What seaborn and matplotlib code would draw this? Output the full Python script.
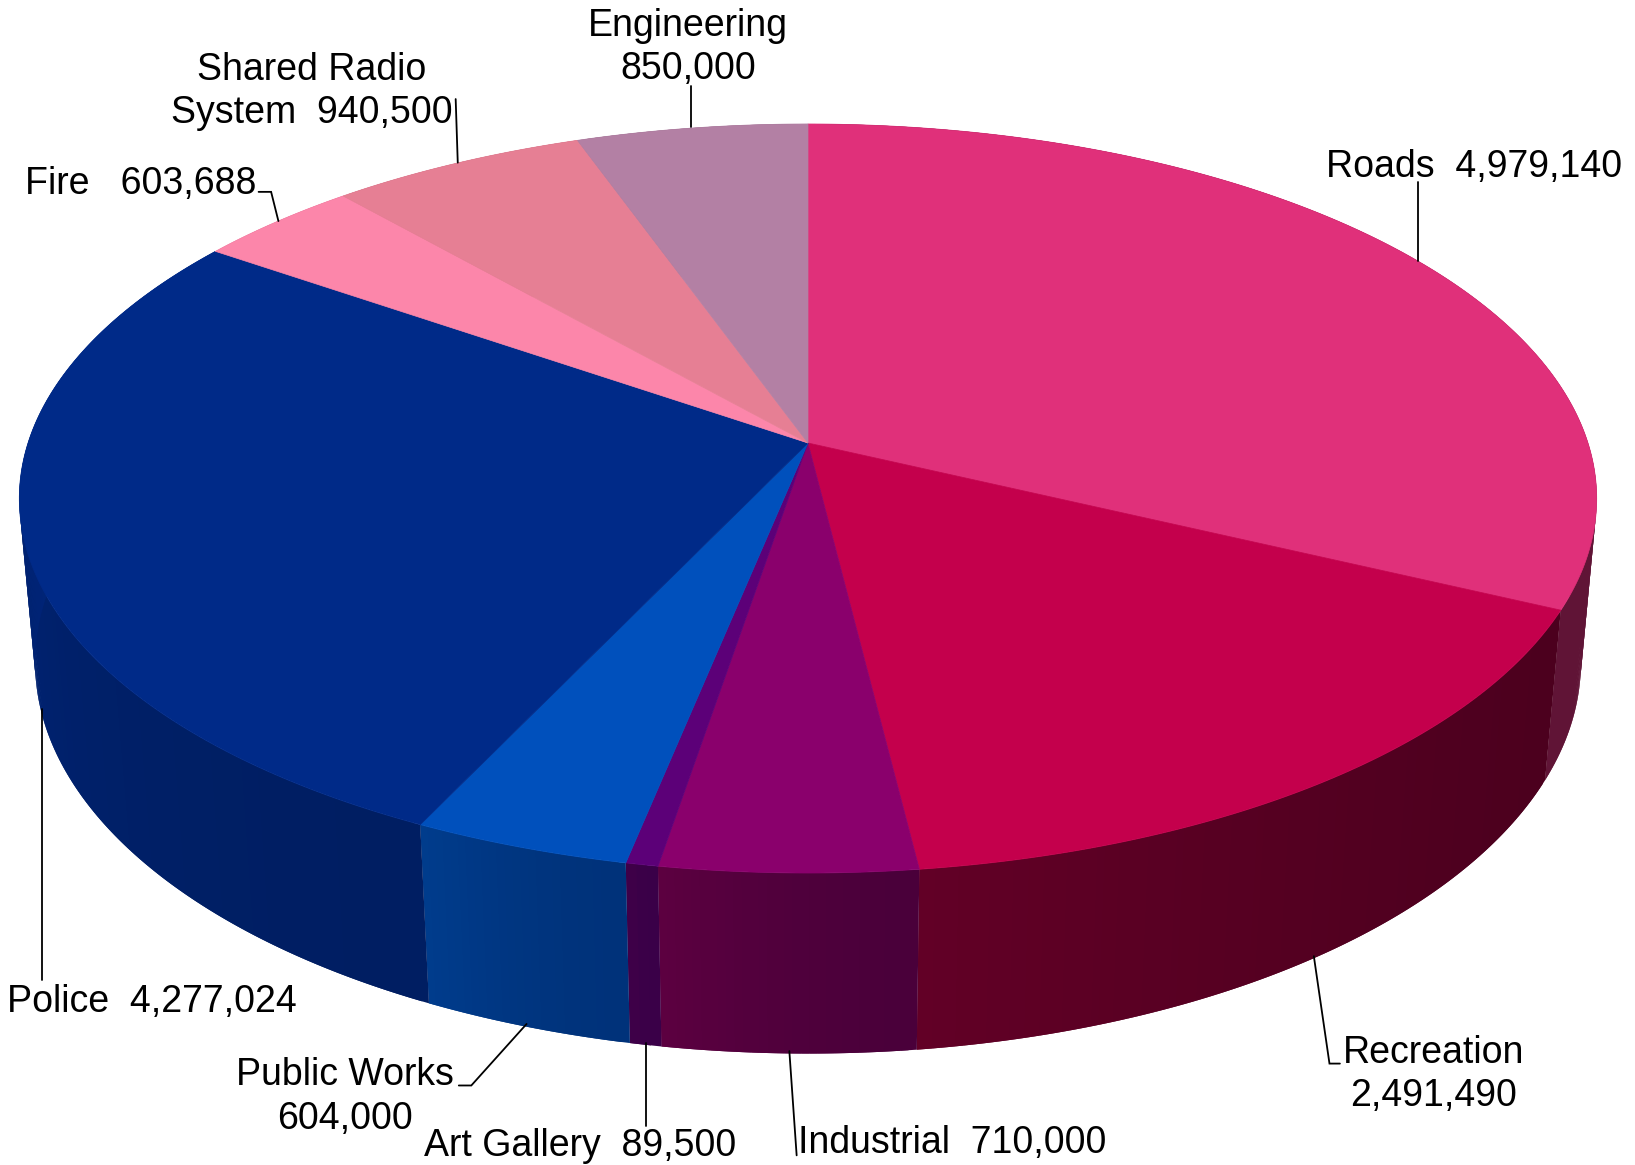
import numpy as np
import matplotlib
matplotlib.use("Agg")
import matplotlib.pyplot as plt
from matplotlib.collections import PolyCollection
from matplotlib.colors import to_rgb
import seaborn as sns

# Budget figures, clockwise from twelve o'clock
departments = ["Roads", "Recreation", "Industrial", "Art Gallery", "Public Works",
               "Police", "Fire", "Shared Radio System", "Engineering"]
amounts = [4979140, 2491490, 710000, 89500, 604000, 4277024, 603688, 940500, 850000]

top_colours = ["#E0307A", "#C4004C", "#8A006C", "#5C0078", "#0050BC",
               "#002A88", "#FC86AA", "#E67F94", "#B380A4"]
# Rim shading per slice: colour at the slice's start angle, then at its end angle
rim_start = ["#5F1434", "#4C001E", "#4A003A", "#3A0048", "#00327A",
             "#001E62", "#C06080", "#B06070", "#806078"]
rim_end = ["#601436", "#620026", "#5C0040", "#3E0048", "#003C8C",
           "#00298A", "#C06080", "#B06070", "#806078"]

label_lines = [["Roads  4,979,140"], ["Recreation", "2,491,490"], ["Industrial  710,000"],
               ["Art Gallery  89,500"], ["Public Works", "604,000"], ["Police  4,277,024"],
               ["Fire   603,688"], ["Shared Radio", "System  940,500"], ["Engineering", "850,000"]]

# Layout, in pixels of the finished figure
W, H = 1635, 1165
S = 1635 / 1568
label_centres = [[(1414, 160)], [(1375, 1010), (1375, 1051)], [(913, 1096)],
                 [(556, 1099)], [(331, 1031), (331, 1073)], [(146, 961)],
                 [(135, 176)], [(299, 67), (299, 108)], [(660, 25), (660, 66)]]
leaders = [[(1360, 250), (1360, 175)],
           [(1260, 917), (1275, 1020), (1285, 1020)],
           [(757, 1008), (764, 1108)],
           [(620, 1000), (620, 1080)],
           [(505, 982), (452, 1041), (440, 1041)],
           [(40, 680), (40, 940)],
           [(267, 212), (260, 184), (248, 184)],
           [(439, 156), (437, 95)],
           [(663, 122), (663, 82)]]

CX, CY = 808, 443     # where the pie's centre lands
A, B = 780, 366.3     # horizontal and vertical scale of the disc
K = 0.1482            # perspective strength with depth
M = 0.02              # perspective change from top face to bottom face
RIM = 166             # height of the rim


def project(theta, radius=1.0, z=0.0):
    """Perspective projection of a disc point; theta runs clockwise from the back."""
    x = radius * np.sin(theta)
    y = radius * np.cos(theta)
    w = 1 + K * y + M * z
    return np.column_stack([CX + A * x / w, CY + (-B * y + RIM * z) / w])


sns.set_theme(style="white")
plt.rcParams["font.family"] = ["Liberation Sans", "DejaVu Sans"]

fig = plt.figure(figsize=(W / 100, H / 100), dpi=100, facecolor="white")
ax = fig.add_axes([0, 0, 1, 1])
ax.set_xlim(0, W)
ax.set_ylim(H, 0)
ax.set_axis_off()

edges = np.concatenate([[0], np.cumsum(amounts)]) / np.sum(amounts) * 2 * np.pi
faces = sns.color_palette(top_colours)

# Rim first: overlapping strips painted in turn, so the shading changes without seams
for i in range(len(amounts)):
    n = max(4, int(np.degrees(edges[i + 1] - edges[i]) * 2))
    t = np.linspace(edges[i], edges[i + 1], n)
    upper, lower = project(t), project(t, z=1.0)
    c0, c1 = np.array(to_rgb(rim_start[i])), np.array(to_rgb(rim_end[i]))
    for j in range(n - 1):
        k = min(j + 2, n - 1)
        quad = [upper[j], upper[k], lower[k], lower[j]]
        colour = c0 + (c1 - c0) * (j / max(1, n - 2)) ** 1.6
        ax.add_collection(PolyCollection([quad], facecolors=[colour], edgecolors="none", linewidths=0))

# Top faces of the slices
for i in range(len(amounts)):
    t = np.linspace(edges[i], edges[i + 1], 200)
    ring = project(t)
    outline = np.vstack([[CX, CY], ring])
    ax.fill(outline[:, 0], outline[:, 1], facecolor=faces[i], edgecolor=faces[i], linewidth=0.5)

# Leader lines and labels
for path in leaders:
    pts = np.array(path) * S
    ax.plot(pts[:, 0], pts[:, 1], color="black", lw=1.3, solid_joinstyle="miter", zorder=5)

for lines, centres in zip(label_lines, label_centres):
    for line, (x, y) in zip(lines, centres):
        ax.text(x * S, y * S, line, ha="center", va="center", color="black", fontsize=27, zorder=6)

fig.savefig("out.png", dpi=100, facecolor="white")
